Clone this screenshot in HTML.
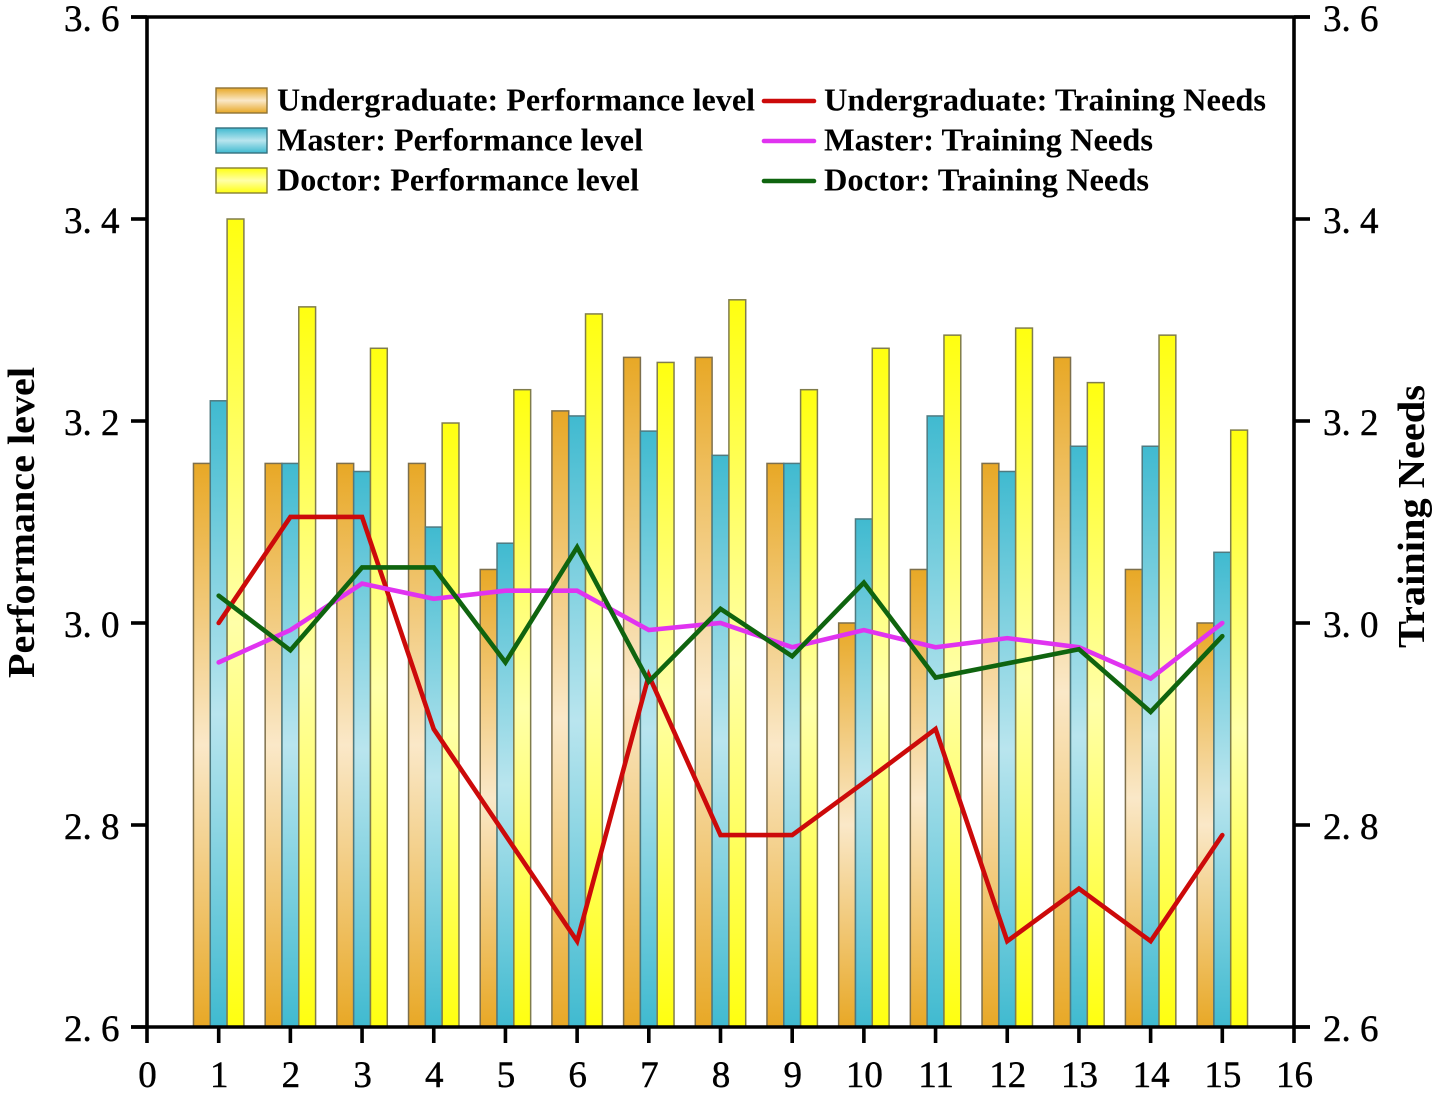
<!DOCTYPE html>
<html lang="en">
<head>
<meta charset="utf-8">
<title>Performance level and Training Needs</title>
<style>
html,body{margin:0;padding:0;background:#fff;width:1441px;height:1095px;overflow:hidden}
svg{display:block}
text{font-family:"Liberation Serif","Noto Serif CJK SC",serif;fill:#000}
.legend-text{font-size:31.5px;font-weight:700}
.axis-title{font-size:38px;font-weight:700}
.tick{font-size:37px;stroke:#000;stroke-width:0.45px}
</style>
</head>
<body>
<svg id="chart" xmlns="http://www.w3.org/2000/svg" width="1441" height="1095" viewBox="0 0 1441 1095">
<defs>
<linearGradient id="grad-under" x1="0" y1="0" x2="0" y2="1"><stop offset="0" stop-color="#E8A826"/><stop offset="0.5" stop-color="#FAE8C8"/><stop offset="1" stop-color="#E8A826"/></linearGradient>
<linearGradient id="grad-master" x1="0" y1="0" x2="0" y2="1"><stop offset="0" stop-color="#40BAD0"/><stop offset="0.5" stop-color="#B9E5EE"/><stop offset="1" stop-color="#40BAD0"/></linearGradient>
<linearGradient id="grad-doctor" x1="0" y1="0" x2="0" y2="1"><stop offset="0" stop-color="#FFFF10"/><stop offset="0.5" stop-color="#FFFFA8"/><stop offset="1" stop-color="#FFFF10"/></linearGradient>
</defs>
<g id="bars"></g>
<g id="lines"></g>
<g id="axes"></g>

<g>
  <rect x="216" y="88" width="51" height="25" fill="url(#grad-under)" stroke="#8f7336" stroke-width="1.4"/>
  <rect x="216" y="128" width="51" height="25" fill="url(#grad-master)" stroke="#35707e" stroke-width="1.4"/>
  <rect x="216" y="168" width="51" height="25" fill="url(#grad-doctor)" stroke="#858032" stroke-width="1.4"/>
  <text class="legend-text" x="277" y="110.5" textLength="478" lengthAdjust="spacingAndGlyphs">Undergraduate: Performance level</text>
  <text class="legend-text" x="277" y="150.5" textLength="366" lengthAdjust="spacingAndGlyphs">Master: Performance level</text>
  <text class="legend-text" x="277" y="190.5" textLength="362" lengthAdjust="spacingAndGlyphs">Doctor: Performance level</text>
  <line x1="764" y1="101" x2="814" y2="101" stroke="#CC0A0A" stroke-width="4.6" stroke-linecap="round"/>
  <line x1="764" y1="141" x2="814" y2="141" stroke="#E033F0" stroke-width="4.6" stroke-linecap="round"/>
  <line x1="764" y1="181" x2="814" y2="181" stroke="#0F640F" stroke-width="4.6" stroke-linecap="round"/>
  <text class="legend-text" x="824" y="110.5" textLength="442" lengthAdjust="spacingAndGlyphs">Undergraduate: Training Needs</text>
  <text class="legend-text" x="824" y="150.5" textLength="329" lengthAdjust="spacingAndGlyphs">Master: Training Needs</text>
  <text class="legend-text" x="824" y="190.5" textLength="325" lengthAdjust="spacingAndGlyphs">Doctor: Training Needs</text>
</g>

<text class="axis-title" transform="translate(34 522.5) rotate(-90)" text-anchor="middle" textLength="311" lengthAdjust="spacingAndGlyphs">Performance level</text>
<text class="axis-title" transform="translate(1424 516.5) rotate(-90)" text-anchor="middle" textLength="263" lengthAdjust="spacingAndGlyphs">Training Needs</text>
</svg>

<script>
const categories = [1,2,3,4,5,6,7,8,9,10,11,12,13,14,15];
const undergradPerformance = [3.158,3.158,3.158,3.158,3.053,3.21,3.263,3.263,3.158,3.0,3.053,3.158,3.263,3.053,3.0];
const masterPerformance = [3.22,3.158,3.15,3.095,3.079,3.205,3.19,3.166,3.158,3.103,3.205,3.15,3.175,3.175,3.07];
const doctorPerformance = [3.4,3.313,3.272,3.198,3.231,3.306,3.258,3.32,3.231,3.272,3.285,3.292,3.238,3.285,3.191];
const undergradTraining = [3.0,3.105,3.105,2.895,2.79,2.685,2.948,2.79,2.79,2.842,2.895,2.685,2.737,2.685,2.79];
const masterTraining = [2.961,2.993,3.039,3.024,3.032,3.032,2.993,3.0,2.976,2.993,2.976,2.985,2.976,2.945,3.0];
const doctorTraining = [3.027,2.973,3.055,3.055,2.961,3.075,2.942,3.014,2.967,3.04,2.946,2.96,2.974,2.912,2.987];
const xTickLabels = ["0","1","2","3","4","5","6","7","8","9","10","11","12","13","14","15","16"];
const yTickValues = [2.6,2.8,3.0,3.2,3.4,3.6];
const yTickLabels = ["2. 6","2. 8","3. 0","3. 2","3. 4","3. 6"];

const NS = "http://www.w3.org/2000/svg";
const left = 147, right = 1294, top_ = 17, bottom = 1027;
function xScale(v){ return left + v * (right - left) / 16; }
function yScale(v){ return bottom - (v - 2.6) * (bottom - top_) / 1.0; }

function make(tag, attrs, parent){
  const el = document.createElementNS(NS, tag);
  for (const k in attrs) el.setAttribute(k, attrs[k]);
  parent.appendChild(el);
  return el;
}

const barsG = document.getElementById('bars');
const linesG = document.getElementById('lines');
const axesG = document.getElementById('axes');

const barWidth = 0.2345;
function drawBars(values, offsetIndex, fill, stroke, key){
  values.forEach(function(v, i){
    const x0 = xScale(categories[i] + (offsetIndex - 1.5) * barWidth);
    const x1 = xScale(categories[i] + (offsetIndex - 0.5) * barWidth);
    const r = make('rect', {x:x0, y:yScale(v), width:x1-x0, height:bottom-yScale(v), fill:fill, stroke:stroke, 'stroke-width':1.5}, barsG);
    
    
  });
}
drawBars(undergradPerformance, 0, 'url(#grad-under)', '#7d6f4c', 'undergraduate');
drawBars(masterPerformance, 1, 'url(#grad-master)', '#4f7a80', 'master');
drawBars(doctorPerformance, 2, 'url(#grad-doctor)', '#807d4c', 'doctor');

function drawLine(values, color, key){
  const pts = values.map(function(v, i){ return xScale(categories[i]) + ',' + yScale(v); }).join(' ');
  const p = make('polyline', {points:pts, fill:'none', stroke:color, 'stroke-width':4.6, 'stroke-linejoin':'miter', 'stroke-linecap':'round'}, linesG);
  
  
}
drawLine(undergradTraining, '#CC0A0A', 'undergraduate-training');
drawLine(masterTraining, '#E033F0', 'master-training');
drawLine(doctorTraining, '#0F640F', 'doctor-training');

function stroke(x1, y1, x2, y2, name){
  const l = make('line', {x1:x1, y1:y1, x2:x2, y2:y2, stroke:'#000', 'stroke-width':3.6}, axesG);
  
  
}
stroke(left, top_, left, bottom + 16, 'y-axis-left');
stroke(right, top_, right, bottom + 16, 'y-axis-right');
stroke(left - 16, top_, right + 16, top_, 'top-border');
stroke(left - 16, bottom, right + 16, bottom, 'x-axis');

xTickLabels.forEach(function(label, i){
  const x = xScale(i);
  if (i > 0 && i < 16) stroke(x, bottom, x, bottom + 16, 'x-tick');
  const t = make('text', {x:x + 0.5, y:1087, 'text-anchor':'middle', class:'tick'}, axesG);
  
  
  t.textContent = label;
});

yTickValues.forEach(function(v, i){
  const y = yScale(v);
  stroke(left - 16, y, left, y, 'y-tick-left');
  stroke(right, y, right + 16, y, 'y-tick-right');
  const a = make('text', {x:64, y:y + 14, class:'tick'}, axesG);
  
  
  a.textContent = yTickLabels[i];
  const b = make('text', {x:1323, y:y + 14, class:'tick'}, axesG);
  
  
  b.textContent = yTickLabels[i];
});
</script>
</body>
</html>
